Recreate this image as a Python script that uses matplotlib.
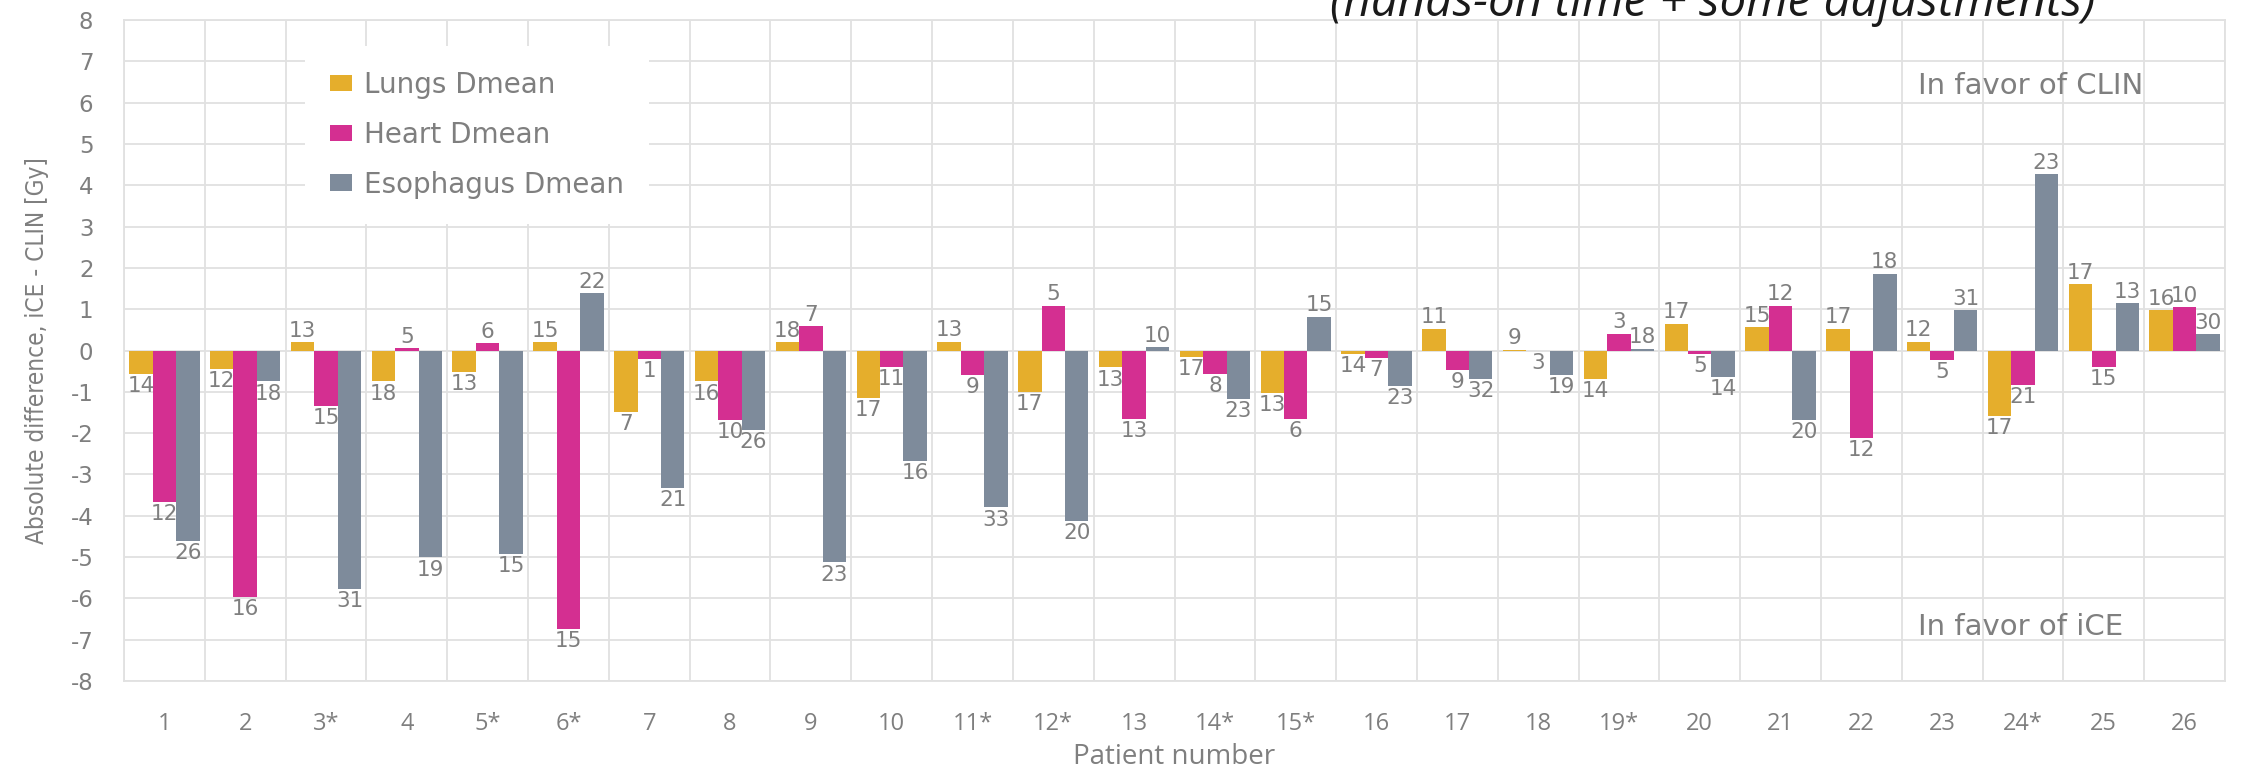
import matplotlib
matplotlib.use("Agg")
import matplotlib.pyplot as plt
import numpy as np

# Patients (asterisk marks special cases)
patients = ["1", "2", "3*", "4", "5*", "6*", "7", "8", "9", "10", "11*", "12*", "13",
            "14*", "15*", "16", "17", "18", "19*", "20", "21", "22", "23", "24*", "25", "26"]

# Absolute difference iCE - CLIN [Gy] per organ
lungs = [-0.56, -0.44, 0.20, -0.75, -0.53, 0.20, -1.48, -0.75, 0.20, -1.15, 0.21, -1.00, -0.41,
         -0.15, -1.03, -0.09, 0.53, 0.02, -0.69, 0.65, 0.56, 0.53, 0.21, -1.58, 1.60, 0.98]
heart = [-3.67, -5.96, -1.34, 0.06, 0.18, -6.75, -0.21, -1.69, 0.59, -0.39, -0.59, 1.08, -1.66,
         -0.56, -1.66, -0.18, -0.47, -0.02, 0.41, -0.08, 1.08, -2.11, -0.24, -0.83, -0.39, 1.05]
esoph = [-4.62, -0.75, -5.78, -5.01, -4.92, 1.39, -3.32, -1.93, -5.13, -2.67, -3.80, -4.12, 0.08,
         -1.18, 0.82, -0.85, -0.69, -0.59, 0.04, -0.63, -1.68, 1.86, 0.98, 4.27, 1.15, 0.39]

# Numbers printed next to each bar
lungs_lbl = [14, 12, 13, 18, 13, 15, 7, 16, 18, 17, 13, 17, 13, 17, 13, 14, 11, 9, 14, 17, 15, 17, 12, 17, 17, 16]
heart_lbl = [12, 16, 15, 5, 6, 15, 1, 10, 7, 11, 9, 5, 13, 8, 6, 7, 9, 3, 3, 5, 12, 12, 5, 21, 15, 10]
esoph_lbl = [26, 18, 31, 19, 15, 22, 21, 26, 23, 16, 33, 20, 10, 23, 15, 23, 32, 19, 18, 14, 20, 18, 31, 23, 13, 30]

series_names = ["Lungs Dmean", "Heart Dmean", "Esophagus Dmean"]
series_colors = ["#E5AE2C", "#D42F91", "#7E8B9B"]

TXT = "#7f7f7f"
GRID = "#e1e1e1"
plt.rcParams["axes.unicode_minus"] = False

W, H = 2242, 772
fig = plt.figure(figsize=(W / 100, H / 100), dpi=100)
ax = fig.add_axes([124 / W, 91 / H, 2101 / W, 661 / H])

x = np.arange(len(patients))
bw = 0.29
for i, (name, vals, lbls, col) in enumerate(zip(series_names, [lungs, heart, esoph],
                                                [lungs_lbl, heart_lbl, esoph_lbl], series_colors)):
    xs = x + (i - 1) * bw
    ax.bar(xs, vals, width=bw, color=col, label=name, zorder=2, linewidth=0)
    for xi, v, l in zip(xs, vals, lbls):
        if v >= 0:
            ax.annotate(str(l), (xi, v), xytext=(0, 1), textcoords="offset points",
                        ha="center", va="bottom", fontsize=15.5, color=TXT, family="DejaVu Sans", zorder=3)
        else:
            ax.annotate(str(l), (xi, v), xytext=(0, -1.5), textcoords="offset points",
                        ha="center", va="top", fontsize=15.5, color=TXT, family="DejaVu Sans", zorder=3)

ax.set_xlim(-0.5, len(patients) - 0.5)
ax.set_ylim(-8, 8)
ax.set_yticks(range(-8, 9))
ax.set_xticks(x, patients)
ax.set_xticks(np.arange(-0.5, len(patients), 1), minor=True)
ax.yaxis.grid(True, color=GRID, lw=1.3, zorder=0)
ax.xaxis.grid(True, which="minor", color=GRID, lw=1.3, zorder=0)
ax.xaxis.grid(False, which="major")
ax.set_axisbelow(True)
for s in ax.spines.values():
    s.set_color(GRID)
    s.set_linewidth(1.3)

ax.tick_params(axis="both", which="both", length=0)
ax.tick_params(axis="x", pad=22, labelsize=17, labelcolor=TXT)
ax.tick_params(axis="y", pad=22, labelsize=16.5, labelcolor=TXT)
for t in ax.get_xticklabels():
    t.set_family("Open Sans")
for t in ax.get_yticklabels():
    t.set_family("DejaVu Sans")

ax.set_xlabel("Patient number", fontsize=20, color=TXT, family="Open Sans")
ax.xaxis.set_label_coords(0.5, (681 - 757) / 661)
ax.xaxis.label.set_va("center")

ylab = ax.set_ylabel("Absolute difference, iCE - CLIN [Gy]", fontsize=15, color=TXT,
                     family="DejaVu Sans", fontstretch="condensed")
ax.yaxis.set_label_coords((37 - 124) / 2101, 0.5)
ylab.set_va("center")

leg = ax.legend(loc="upper left", bbox_to_anchor=(0.086, 0.961), frameon=True, fancybox=False,
                edgecolor="none", facecolor="white", framealpha=1, fontsize=20,
                handlelength=0.8, handleheight=0.55, handletextpad=0.45, labelspacing=0.79,
                borderpad=0.9, borderaxespad=0)
for t in leg.get_texts():
    t.set_color(TXT)
    t.set_family("DejaVu Sans")

ax.text(21.7, 6.4, "In favor of CLIN", fontsize=21, color=TXT, ha="left", va="center",
        family="DejaVu Sans", zorder=3)
ax.text(21.7, -6.7, "In favor of iCE", fontsize=21, color=TXT, ha="left", va="center",
        family="DejaVu Sans", zorder=3)

fig.text(1330 / W, 1 - 16 / H, "(hands-on time + some adjustments)", fontsize=34.2,
         style="italic", family="Open Sans", color="#1a1a1a", ha="left", va="baseline")

# fit the rotated axis title to a span of about 387 px along the axis
fig.canvas.draw()
r = fig.canvas.get_renderer()
span = ylab.get_window_extent(r).height
ylab.set_fontsize(ylab.get_fontsize() * 387 / span)

fig.savefig("out.png", dpi=100, facecolor="white")
